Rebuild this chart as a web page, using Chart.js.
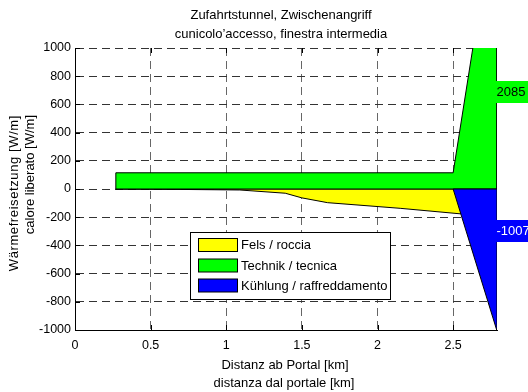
<!DOCTYPE html>
<html>
<head>
<meta charset="utf-8">
<script src="https://cdn.jsdelivr.net/npm/chart.js@4/dist/chart.umd.min.js"></script>
<style>
  html, body { margin: 0; padding: 0; background: #fff; }
  #wrap { width: 528px; height: 392px; }
</style>
</head>
<body>
<div id="wrap"><canvas id="c" width="528" height="392"></canvas></div>
<script>
// Heat release along the access tunnel (distance from portal in km, W/m)
const titleLines = ['Zufahrtstunnel, Zwischenangriff', 'cunicolo\u2019accesso, finestra intermedia'];
const xTitleLines = ['Distanz ab Portal [km]', 'distanza dal portale [km]'];
const yTitleLines = ['W\u00e4rmefreisetzung [W/m]', 'calore liberato [W/m]'];

const seriesNames = ['Fels / roccia', 'Technik / tecnica', 'K\u00fchlung / raffreddamento'];
const seriesColors = ['#ffff00', '#00ff00', '#0000ff'];

// rock heat: profile below zero
const rockKm = [0.27, 0.7, 1.09, 1.39, 1.5, 1.67, 2.15, 2.79];
const rockW  = [0, -3, -7, -30, -63, -97, -137, -200];
// technical installations
const techKm = [0.27, 2.5, 2.79];
const techW  = [115, 115, 2085];
// cooling
const coolKm = [2.5, 2.79];
const coolW  = [0, -1007];

// end values written at the right edge, and the heights they sit at
const endValues = [techW[techW.length - 1], coolW[coolW.length - 1]];
const endLabelAt = [690, -298];

const xTicks = [0, 0.5, 1, 1.5, 2, 2.5];
const xTickLabels = ['0', '0.5', '1', '1.5', '2', '2.5'];
const yTicks = [-1000, -800, -600, -400, -200, 0, 200, 400, 600, 800, 1000];
const yTickLabels = ['-1000', '-800', '-600', '-400', '-200', '0', '200', '400', '600', '800', '1000'];
const xMax = 2.79;

const FONT = '"Liberation Sans", Arial, Helvetica, sans-serif';

// closed outline of an area between the profile and the zero line
function areaPoints(km, w) {
  const pts = [{ x: km[0], y: 0 }];
  km.forEach((x, i) => pts.push({ x: x, y: w[i] }));
  pts.push({ x: km[km.length - 1], y: 0 });
  pts.push({ x: km[0], y: 0 });
  return pts;
}

function areaDataset(i, pts, order) {
  return {
    label: seriesNames[i],
    data: pts,
    backgroundColor: seriesColors[i],
    borderColor: '#000',
    borderWidth: 1,
    fill: 'shape',
    pointRadius: 0,
    tension: 0,
    order: order
  };
}

const decorations = {
  id: 'decorations',
  beforeDatasetsDraw(chart) {
    const ctx = chart.ctx;
    const a = chart.chartArea;
    const xs = chart.scales.x, ys = chart.scales.y;
    ctx.save();
    ctx.strokeStyle = '#000';
    ctx.lineWidth = 1;
    ctx.beginPath();
    xTicks.forEach(v => {
      const px = Math.round(xs.getPixelForValue(v)) + 0.5;
      ctx.moveTo(px, a.bottom); ctx.lineTo(px, a.bottom - 5);
      ctx.moveTo(px, a.top); ctx.lineTo(px, a.top + 5);
    });
    yTicks.forEach(v => {
      const py = Math.round(ys.getPixelForValue(v)) + 0.5;
      ctx.moveTo(a.left, py); ctx.lineTo(a.left + 5, py);
    });
    ctx.stroke();
    ctx.restore();
  },
  afterDraw(chart) {
    const ctx = chart.ctx;
    const xs = chart.scales.x, ys = chart.scales.y;
    ctx.save();
    ctx.fillStyle = '#000';
    ctx.font = '13px ' + FONT;

    // title
    ctx.textAlign = 'center';
    ctx.textBaseline = 'middle';
    ctx.fillText(titleLines[0], 281, 15);
    ctx.fillText(titleLines[1], 281, 34);

    // x axis title
    ctx.fillText(xTitleLines[0], 285, 365);
    ctx.fillText(xTitleLines[1], 284, 383);

    // y axis title (rotated, both lines ending at the same height)
    [[14, yTitleLines[0], '0.6px'], [30, yTitleLines[1], '0px']].forEach(([x, t, sp]) => {
      ctx.save();
      ctx.translate(x, 115);
      ctx.rotate(-Math.PI / 2);
      ctx.letterSpacing = sp;
      ctx.textAlign = 'right';
      ctx.textBaseline = 'middle';
      ctx.fillText(t, 0, 0);
      ctx.restore();
    });

    // legend
    const lx = 190.5, ly = 232.5, lw = 200, lh = 67;
    ctx.fillStyle = '#fff';
    ctx.fillRect(lx, ly, lw, lh);
    ctx.strokeStyle = '#000';
    ctx.lineWidth = 1;
    ctx.strokeRect(lx, ly, lw, lh);
    const rowY = [245, 265.5, 285.5];
    seriesNames.forEach((name, i) => {
      ctx.fillStyle = seriesColors[i];
      ctx.fillRect(198.5, rowY[i] - 6.5, 39, 13);
      ctx.strokeRect(198.5, rowY[i] - 6.5, 39, 13);
      ctx.fillStyle = '#000';
      ctx.textAlign = 'left';
      ctx.textBaseline = 'middle';
      ctx.fillText(name, 241, rowY[i] + 0.5);
    });

    // end values at the right edge
    const bx = xs.getPixelForValue(xMax) - 1.5;
    const boxColors = [seriesColors[1], seriesColors[2]];
    const textColors = ['#000', '#fff'];
    endValues.forEach((v, i) => {
      const cy = ys.getPixelForValue(endLabelAt[i]);
      ctx.fillStyle = boxColors[i];
      ctx.fillRect(bx, Math.round(cy - 11), 40, 22);
      ctx.fillStyle = textColors[i];
      ctx.textAlign = 'left';
      ctx.textBaseline = 'middle';
      ctx.fillText(String(v), bx + 1, cy + 0.5);
    });
    ctx.restore();
  }
};

new Chart(document.getElementById('c'), {
  type: 'line',
  data: {
    datasets: [
      areaDataset(0, areaPoints(rockKm, rockW), 2),
      areaDataset(1, areaPoints(techKm, techW), 1),
      areaDataset(2, areaPoints(coolKm, coolW), 0)
    ]
  },
  options: {
    responsive: false,
    animation: false,
    devicePixelRatio: 1,
    events: [],
    layout: { padding: { top: 48, right: 31, left: 0, bottom: 0 } },
    plugins: {
      legend: { display: false },
      title: { display: false },
      tooltip: { enabled: false }
    },
    scales: {
      x: {
        type: 'linear',
        min: 0,
        max: xMax,
        afterBuildTicks: s => { s.ticks = xTicks.map(v => ({ value: v })); },
        afterFit: s => { s.height = 62; },
        grid: { color: '#666', lineWidth: 1, drawTicks: false },
        border: { display: true, color: '#000', width: 1, dash: [8, 5] },
        ticks: {
          color: '#000',
          font: { family: FONT, size: 12.5 },
          padding: 8,
          maxRotation: 0,
          autoSkip: false,
          callback: (v, i) => xTickLabels[i]
        }
      },
      y: {
        type: 'linear',
        min: -1000,
        max: 1000,
        afterBuildTicks: s => { s.ticks = yTicks.map(v => ({ value: v })); },
        afterFit: s => { s.width = 75; },
        grid: { color: '#333', lineWidth: 1, drawTicks: false },
        border: { display: true, color: '#000', width: 1, dash: [8, 5] },
        ticks: {
          color: '#000',
          font: { family: FONT, size: 12.5 },
          padding: 4,
          autoSkip: false,
          callback: (v, i) => yTickLabels[i]
        }
      }
    }
  },
  plugins: [decorations]
});
</script>
</body>
</html>
